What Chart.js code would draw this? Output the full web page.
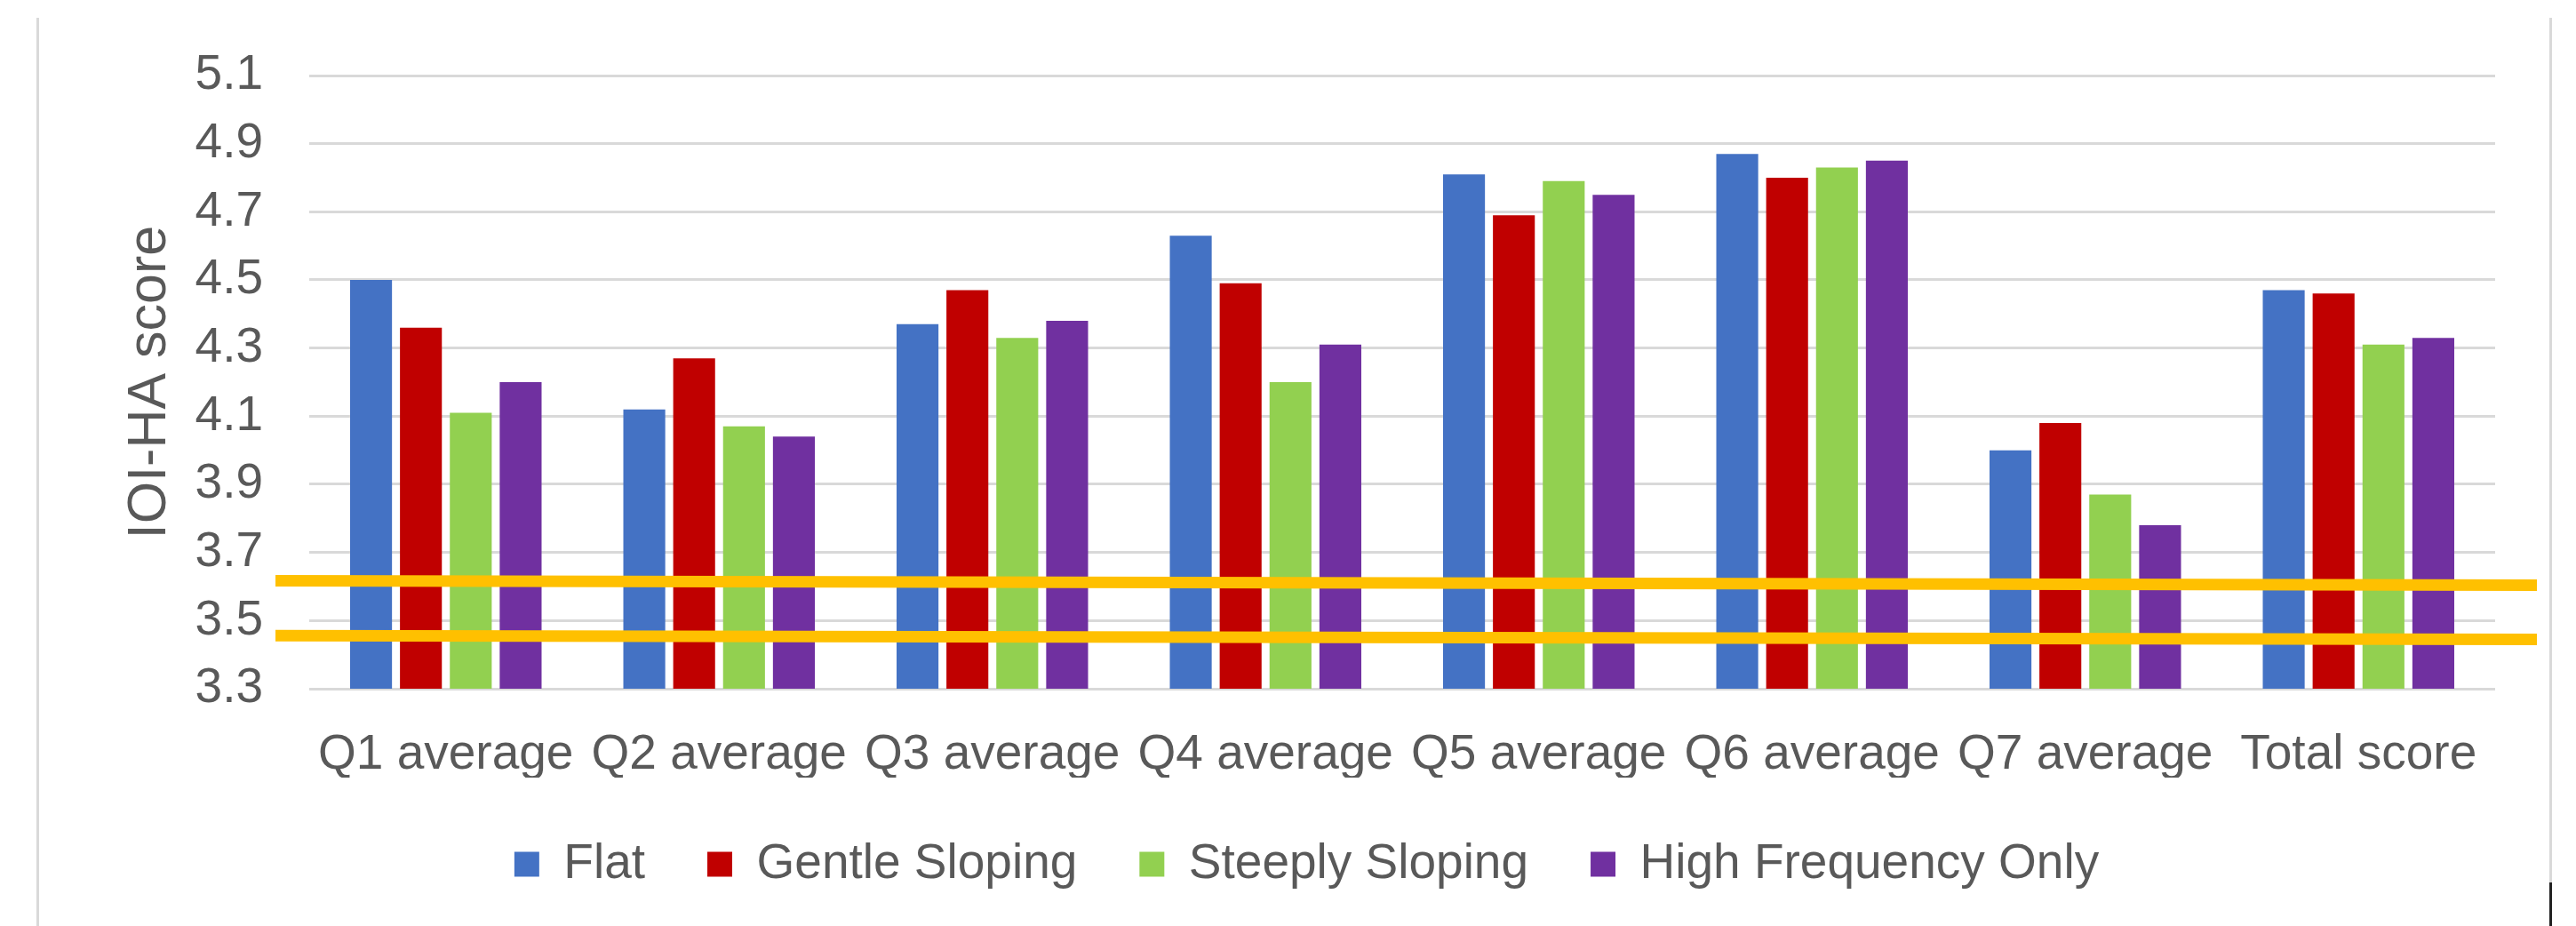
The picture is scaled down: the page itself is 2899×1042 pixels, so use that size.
<!DOCTYPE html>
<html>
<head>
<meta charset="utf-8">
<script src="https://cdn.jsdelivr.net/npm/chart.js@4.4.1/dist/chart.umd.min.js"></script>
<style>
    body { margin: 0; background: #fff; }
    #wrap { position: relative; width: 2899px; height: 1042px; }
    .edge { position: absolute; top: 20px; bottom: 0; width: 0; border-left: 3px solid #d9d9d9; }
</style>
</head>
<body>
<div id="wrap">
    <canvas id="myChart" width="2899" height="1042"></canvas>
    <div class="edge" style="left: 41px;"></div>
    <div class="edge" style="left: 2869px;"></div>
    <div class="edge" style="left: 2869px; top: 993px; border-left-color: #222;"></div>
</div>
<script>
const labels = [
    'Q1 average',
    'Q2 average',
    'Q3 average',
    'Q4 average',
    'Q5 average',
    'Q6 average',
    'Q7 average',
    'Total score'
];

const flat = [4.50, 4.12, 4.37, 4.63, 4.81, 4.87, 4.00, 4.47];
const gentle = [4.36, 4.27, 4.47, 4.49, 4.69, 4.80, 4.08, 4.46];
const steep = [4.11, 4.07, 4.33, 4.20, 4.79, 4.83, 3.87, 4.31];
const highFreq = [4.20, 4.04, 4.38, 4.31, 4.75, 4.85, 3.78, 4.33];

// hand-drawn orange marker lines (value at left end, value at right end)
const markerStart = [3.617, 3.456];
const markerEnd = [3.604, 3.445];

const textColor = '#595959';
const fontFamily = "'Liberation Sans', Arial, sans-serif";

const markerLines = {
    id: 'markerLines',
    afterDatasetsDraw(chart) {
        const {ctx, chartArea, scales} = chart;
        ctx.save();
        ctx.strokeStyle = '#FFC000';
        ctx.lineWidth = 13;
        for (let i = 0; i < markerStart.length; i++) {
            ctx.beginPath();
            ctx.moveTo(chartArea.left - 38, scales.y.getPixelForValue(markerStart[i]));
            ctx.lineTo(chartArea.right + 47, scales.y.getPixelForValue(markerEnd[i]));
            ctx.stroke();
        }
        ctx.restore();
    }
};

const data = {
    labels: labels,
    datasets: [{
        label: 'Flat',
        backgroundColor: '#4472C4',
        data: flat
    }, {
        label: 'Gentle Sloping',
        backgroundColor: '#C00000',
        data: gentle
    }, {
        label: 'Steeply Sloping',
        backgroundColor: '#92D050',
        data: steep
    }, {
        label: 'High Frequency Only',
        backgroundColor: '#7030A0',
        data: highFreq
    }]
};

const config = {
    type: 'bar',
    data: data,
    options: {
        responsive: false,
        devicePixelRatio: 1,
        animation: false,
        categoryPercentage: 0.73,
        barPercentage: 0.84,
        layout: {
            padding: { left: 133, right: 91, top: 83, bottom: 32 }
        },
        plugins: {
            legend: {
                position: 'bottom',
                labels: {
                    boxWidth: 28,
                    boxHeight: 28,
                    padding: 70,
                    color: textColor,
                    font: { family: fontFamily, size: 55 }
                }
            },
            tooltip: { enabled: false }
        },
        scales: {
            x: {
                afterFit(scale) {
                    scale.height = 100;
                },
                grid: { display: false },
                border: { display: false },
                ticks: {
                    color: textColor,
                    padding: 34,
                    autoSkip: false,
                    maxRotation: 0,
                    font: { family: fontFamily, size: 55 }
                }
            },
            y: {
                min: 3.3,
                max: 5.1,
                afterFit(scale) {
                    scale.width = 215;
                },
                grid: {
                    color: '#d9d9d9',
                    lineWidth: 3,
                    drawTicks: false
                },
                border: { display: false },
                ticks: {
                    stepSize: 0.2,
                    color: textColor,
                    padding: 52,
                    font: { family: fontFamily, size: 55 },
                    callback: (v) => v.toFixed(1)
                },
                title: {
                    display: true,
                    text: 'IOI-HA score',
                    color: textColor,
                    padding: 0,
                    font: { family: fontFamily, size: 61 }
                }
            }
        }
    },
    plugins: [markerLines]
};

const myChart = new Chart(
    document.getElementById('myChart'),
    config
);
</script>
</body>
</html>
